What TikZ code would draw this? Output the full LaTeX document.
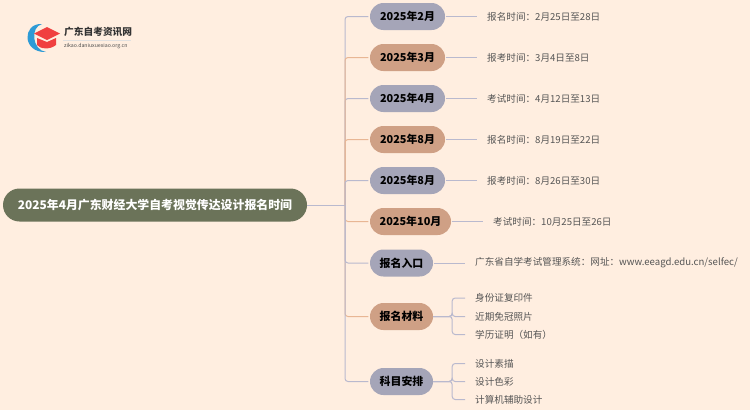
\documentclass[tikz,border=0pt]{standalone}
\usepackage{fontspec}
\setmainfont{Noto Sans CJK SC}
\definecolor{bgpeach}{HTML}{FFEEE0}
\definecolor{rootgreen}{HTML}{6B7359}
\definecolor{pillgrey}{HTML}{A5A5B8}
\definecolor{pilltan}{HTML}{CFA085}
\definecolor{linegrey}{HTML}{B9B9CE}
\definecolor{linetan}{HTML}{E8B694}
\definecolor{leafgrey}{HTML}{555555}
\definecolor{logoblue}{HTML}{2E9BD6}
\definecolor{logored}{HTML}{F04040}
\tikzset{
  rootpill/.style={rounded rectangle,fill=rootgreen,text=white,font=\fontsize{11.9}{14}\bfseries,minimum height=33pt,minimum width=304pt,inner sep=0pt},
  greypill/.style={rounded rectangle,fill=pillgrey,text=black,font=\fontsize{10.9}{12}\bfseries,minimum height=27pt,inner sep=0pt},
  tanpill/.style={greypill,fill=pilltan},
  leaf/.style={anchor=west,text=leafgrey,font=\fontsize{9.6}{12}\selectfont,inner sep=0pt},
  greyline/.style={draw=linegrey,line width=1pt,rounded corners=3pt},
  tanline/.style={draw=linetan,line width=1pt,rounded corners=3pt}
}
\usetikzlibrary{shapes.misc}
\begin{document}
\begin{tikzpicture}[x=1pt,y=-1pt]
  \fill[bgpeach] (0,0) rectangle (750,410);
  % logo
  \fill[logoblue] (42,24) .. controls (22,23) and (22,53) .. (46,52)
    .. controls (32,50) and (30,27) .. (42,24);
  \fill[logored] (37,38) -- (37,45) .. controls (40,49) and (50,50) .. (56,45) -- (56,38) -- (47,42) -- cycle;
  \fill[logored] (47,27) -- (60,33.5) -- (47,40) -- (34,33.5) -- cycle;
  \node[anchor=west,inner sep=0pt,text=black!80,font=\fontsize{9.7}{11}\bfseries] (logotext) at (64,31.5) {广东自考资讯网};
  \draw[black!12] (63,40) -- (131,40);
  \node[anchor=west,inner sep=0pt,text=black!70,font=\fontsize{5.2}{6}\selectfont] (logourl) at (64,46) {zikao.daniuxuexiao.org.cn};
  % nodes
  \node[rootpill] (root) at (155,205) {2025年4月广东财经大学自考视觉传达设计报名时间};
  \coordinate (trunk) at (345,205);
  \node[greypill,minimum width=75pt] (feb) at (407.5,16.5) {2025年2月};
  \node[tanpill,minimum width=75pt] (mar) at (407.5,57.5) {2025年3月};
  \node[greypill,minimum width=75pt] (apr) at (407.5,98.5) {2025年4月};
  \node[tanpill,minimum width=75pt] (augone) at (407.5,139.5) {2025年8月};
  \node[greypill,minimum width=75pt] (augtwo) at (407.5,180.5) {2025年8月};
  \node[tanpill,minimum width=81pt] (oct) at (410.5,221.5) {2025年10月};
  \node[greypill,minimum width=63pt] (entry) at (401.5,263) {报名入口};
  \node[tanpill,minimum width=63pt] (docs) at (401.5,316.5) {报名材料};
  \node[greypill,minimum width=63pt] (subj) at (401.5,381.5) {科目安排};
  % leaves
  \node[leaf] (febt) at (487,16.5) {报名时间：2月25日至28日};
  \node[leaf] (mart) at (487,57.5) {报考时间：3月4日至8日};
  \node[leaf] (aprt) at (487,98.5) {考试时间：4月12日至13日};
  \node[leaf] (augonet) at (487,139.5) {报名时间：8月19日至22日};
  \node[leaf] (augtwot) at (487,180.5) {报考时间：8月26日至30日};
  \node[leaf] (octt) at (493,221.5) {考试时间：10月25日至26日};
  \node[leaf] (entryt) at (475,263) {广东省自学考试管理系统：网址：www.eeagd.edu.cn/selfec/};
  \node[leaf] (docsa) at (475,298) {身份证复印件};
  \node[leaf] (docsb) at (475,316.5) {近期免冠照片};
  \node[leaf] (docsc) at (475,334.5) {学历证明（如有）};
  \node[leaf] (subja) at (475,363.5) {设计素描};
  \node[leaf] (subjb) at (475,381.5) {设计色彩};
  \node[leaf] (subjc) at (475,399.5) {计算机辅助设计};
  % connectors
  \draw[greyline] (root.east) -- (trunk);
  \foreach \n/\s in {feb/greyline,apr/greyline,mar/tanline,augone/tanline,oct/tanline,docs/tanline,augtwo/greyline,entry/greyline,subj/greyline}
    \draw[\s,shorten >=1.5pt] (trunk) |- (\n.west);
  \foreach \a/\b in {feb/febt,mar/mart,apr/aprt,augone/augonet,augtwo/augtwot,oct/octt,entry/entryt}
    \draw[greyline,shorten <=1pt,shorten >=10pt] (\a.east) -- (\b.west);
  \foreach \a/\b in {docs/docsa,docs/docsb,docs/docsc,subj/subja,subj/subjb,subj/subjc}
    \draw[greyline,shorten >=10pt] (\a.east) -- ++(19,0) |- (\b.west);
\end{tikzpicture}
\end{document}
